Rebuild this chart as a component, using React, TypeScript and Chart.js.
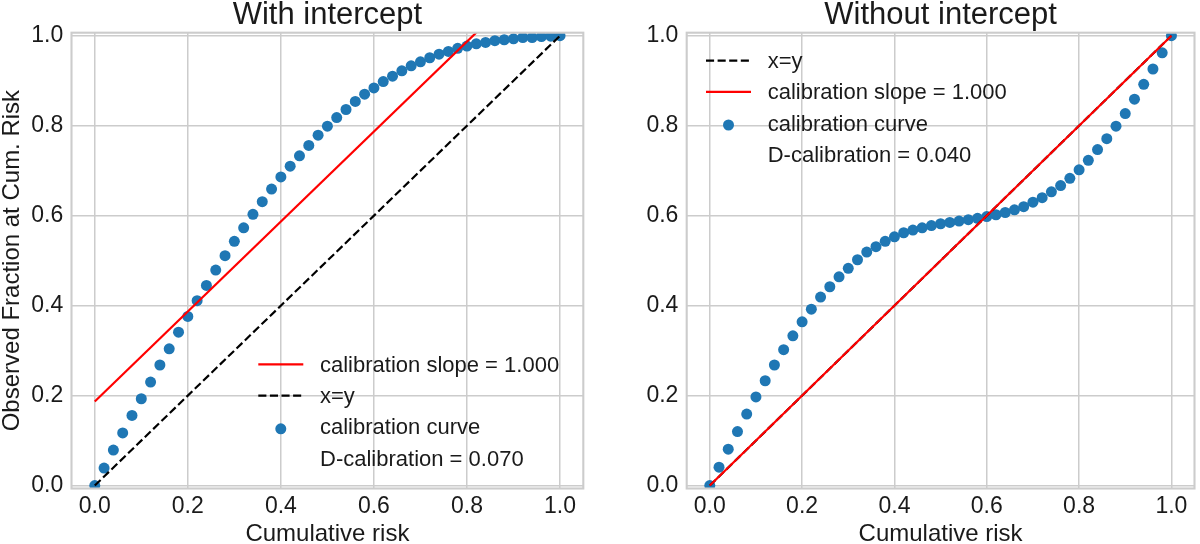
import React, { useEffect, useRef } from "react";
import { Chart, registerables } from "chart.js";

Chart.register(...registerables);

// ---------------- data ----------------
const RISK = [
  0.0, 0.02, 0.04, 0.06, 0.08, 0.1, 0.12, 0.14, 0.16, 0.18,
  0.2, 0.22, 0.24, 0.26, 0.28, 0.3, 0.32, 0.34, 0.36, 0.38,
  0.4, 0.42, 0.44, 0.46, 0.48, 0.5, 0.52, 0.54, 0.56, 0.58,
  0.6, 0.62, 0.64, 0.66, 0.68, 0.7, 0.72, 0.74, 0.76, 0.78,
  0.8, 0.82, 0.84, 0.86, 0.88, 0.9, 0.92, 0.94, 0.96, 0.98, 1.0,
];

const CURVE_WITH_INTERCEPT = [
  0.0, 0.039, 0.079, 0.117, 0.156, 0.193, 0.23, 0.268, 0.304, 0.341,
  0.376, 0.411, 0.445, 0.479, 0.511, 0.543, 0.573, 0.603, 0.631, 0.659,
  0.686, 0.71, 0.733, 0.756, 0.779, 0.799, 0.818, 0.836, 0.854, 0.87,
  0.884, 0.898, 0.91, 0.922, 0.933, 0.942, 0.951, 0.959, 0.965, 0.972,
  0.977, 0.982, 0.985, 0.989, 0.991, 0.993, 0.996, 0.996, 0.998, 0.999, 1.0,
];

const CURVE_WITHOUT_INTERCEPT = [
  0.0, 0.041, 0.081, 0.12, 0.159, 0.197, 0.233, 0.268, 0.302, 0.333,
  0.364, 0.392, 0.419, 0.442, 0.464, 0.483, 0.502, 0.519, 0.531, 0.543,
  0.553, 0.562, 0.568, 0.573, 0.578, 0.582, 0.585, 0.588, 0.591, 0.594,
  0.598, 0.602, 0.607, 0.613, 0.62, 0.63, 0.64, 0.653, 0.667, 0.683,
  0.702, 0.723, 0.747, 0.771, 0.799, 0.827, 0.859, 0.892, 0.926, 0.962, 1.0,
];

const IDENTITY_X = [0, 1];
const IDENTITY_Y = [0, 1];
const SLOPE_WITH_X = [0, 1];
const SLOPE_WITH_Y = [0.187, 1.187];
const SLOPE_WITHOUT_X = [0, 1];
const SLOPE_WITHOUT_Y = [0, 1];

const X_TICKS = [0, 0.2, 0.4, 0.6, 0.8, 1.0];
const Y_TICKS = [0, 0.2, 0.4, 0.6, 0.8, 1.0];

const TITLE_WITH = "With intercept";
const TITLE_WITHOUT = "Without intercept";
const X_LABEL = "Cumulative risk";
const Y_LABEL = "Observed Fraction at Cum. Risk";

const LEGEND_WITH_LABELS = ["calibration slope = 1.000", "x=y", "calibration curve", "D-calibration = 0.070"];
const LEGEND_WITH_KINDS = ["red", "dash", "dot", "none"];
const LEGEND_WITHOUT_LABELS = ["x=y", "calibration slope = 1.000", "calibration curve", "D-calibration = 0.040"];
const LEGEND_WITHOUT_KINDS = ["dash", "red", "dot", "none"];

// ---------------- styles ----------------
const FAMILY = '"Liberation Sans", Arial, Helvetica, sans-serif';
const TEXT = "#1a1a1a";
const GRID = "#cccccc";
const BLUE = "#1f77b4";
const RED = "#ff0000";
const DASH = [8.1, 3.5];
const LW = 2.2;
const DOT_R = 5.5;

type PanelSpec = {
  title: string;
  curve: number[];
  slopeX: number[];
  slopeY: number[];
  showYLabel: boolean;
  yAxisWidth: number;
  padRight: number;
  legendLabels: string[];
  legendKinds: string[];
  legendDx: number;
  legendDy: number;
};

function pts(xs: number[], ys: number[]) {
  return xs.map((x, i) => ({ x, y: ys[i] }));
}

function makeConfig(p: PanelSpec): any {
  const framePlugin = {
    id: "frame",
    afterDatasetsDraw(chart: any) {
      const { ctx, chartArea: a } = chart;
      ctx.save();
      ctx.strokeStyle = GRID;
      ctx.lineWidth = 2.1;
      ctx.setLineDash([]);
      ctx.strokeRect(a.left, a.top, a.right - a.left, a.bottom - a.top);
      ctx.restore();
    },
  };
  const legendPlugin = {
    id: "innerLegend",
    afterDraw(chart: any) {
      const { ctx, chartArea: a } = chart;
      const hx = a.left + p.legendDx;
      const base = a.top + p.legendDy;
      ctx.save();
      ctx.font = `22px ${FAMILY}`;
      ctx.fillStyle = TEXT;
      ctx.textAlign = "left";
      ctx.textBaseline = "alphabetic";
      p.legendLabels.forEach((label, i) => {
        const b = base + i * 31.3;
        const kind = p.legendKinds[i];
        if (kind === "red" || kind === "dash") {
          ctx.beginPath();
          ctx.lineWidth = LW;
          ctx.lineCap = "butt";
          ctx.strokeStyle = kind === "red" ? RED : "#000000";
          ctx.setLineDash(kind === "dash" ? DASH : []);
          ctx.moveTo(hx, b - 7.3);
          ctx.lineTo(hx + 45, b - 7.3);
          ctx.stroke();
          ctx.setLineDash([]);
        } else if (kind === "dot") {
          ctx.beginPath();
          ctx.fillStyle = BLUE;
          ctx.arc(hx + 22.5, b - 5.5, DOT_R, 0, Math.PI * 2);
          ctx.fill();
          ctx.fillStyle = TEXT;
        }
        ctx.fillText(label, hx + 61.7, b);
      });
      ctx.restore();
    },
  };

  const lineDs = (data: any, color: string, dash: number[], order: number) => ({
    data,
    showLine: true,
    borderColor: color,
    borderWidth: LW,
    borderDash: dash,
    borderCapStyle: "butt",
    pointRadius: 0,
    pointHoverRadius: 0,
    fill: false,
    clip: 0,
    order,
  });

  return {
    type: "scatter",
    data: {
      datasets: [
        lineDs(pts(p.slopeX, p.slopeY), RED, [], 0),
        lineDs(pts(IDENTITY_X, IDENTITY_Y), "#000000", DASH, 1),
        {
          data: pts(RISK, p.curve),
          showLine: false,
          pointRadius: DOT_R,
          pointBorderWidth: 0,
          pointBackgroundColor: BLUE,
          pointBorderColor: BLUE,
          clip: 0,
          order: 2,
        },
      ],
    },
    options: {
      responsive: false,
      maintainAspectRatio: false,
      animation: false,
      devicePixelRatio: 1,
      layout: { padding: { top: 0, left: 0, bottom: 0, right: p.padRight } },
      plugins: {
        legend: { display: false },
        tooltip: { enabled: false },
        title: {
          display: true,
          fullSize: false,
          text: p.title,
          color: TEXT,
          font: { family: FAMILY, size: 31, weight: "normal", lineHeight: 1 },
          padding: { top: 0, bottom: 1.7 },
        },
      },
      scales: {
        x: {
          type: "linear",
          min: -0.05,
          max: 1.05,
          afterBuildTicks: (s: any) => {
            s.ticks = X_TICKS.map((value) => ({ value }));
          },
          afterFit: (s: any) => {
            s.height = 55.5;
          },
          ticks: {
            color: TEXT,
            padding: 4.6,
            maxRotation: 0,
            autoSkip: false,
            font: { family: FAMILY, size: 23, lineHeight: 1.2 },
            callback: (v: any) => Number(v).toFixed(1),
          },
          grid: { color: GRID, lineWidth: 1.5, drawTicks: false },
          border: { display: false },
          title: {
            display: true,
            text: X_LABEL,
            color: TEXT,
            font: { family: FAMILY, size: 24, lineHeight: 1 },
            padding: { top: 0, bottom: -2.4 },
          },
        },
        y: {
          type: "linear",
          min: -0.0065,
          max: 1.0067,
          afterBuildTicks: (s: any) => {
            s.ticks = Y_TICKS.map((value) => ({ value }));
          },
          afterFit: (s: any) => {
            s.width = p.yAxisWidth;
          },
          ticks: {
            color: TEXT,
            padding: 8.3,
            autoSkip: false,
            font: { family: FAMILY, size: 23, lineHeight: 1.2 },
            callback: (v: any) => Number(v).toFixed(1),
          },
          grid: { color: GRID, lineWidth: 1.5, drawTicks: false },
          border: { display: false },
          title: {
            display: p.showYLabel,
            text: Y_LABEL,
            color: TEXT,
            font: { family: FAMILY, size: 24, lineHeight: 1 },
            padding: { top: 0.4, bottom: 0 },
          },
        },
      },
    },
    plugins: [framePlugin, legendPlugin],
  };
}

function Panel({ spec, left, width }: { spec: PanelSpec; left: number; width: number }) {
  const ref = useRef<HTMLCanvasElement | null>(null);
  useEffect(() => {
    if (!ref.current) return;
    const chart = new Chart(ref.current, makeConfig(spec));
    return () => chart.destroy();
  }, [spec]);
  return (
    <canvas
      ref={ref}
      width={width}
      height={544}
      style={{ position: "absolute", left, top: 0, width, height: 544, display: "block" }}
    />
  );
}

const LEFT_SPEC: PanelSpec = {
  title: TITLE_WITH,
  curve: CURVE_WITH_INTERCEPT,
  slopeX: SLOPE_WITH_X,
  slopeY: SLOPE_WITH_Y,
  showYLabel: true,
  yAxisWidth: 71.5,
  padRight: 36.7,
  legendLabels: LEGEND_WITH_LABELS,
  legendKinds: LEGEND_WITH_KINDS,
  legendDx: 186.8,
  legendDy: 339,
};

const RIGHT_SPEC: PanelSpec = {
  title: TITLE_WITHOUT,
  curve: CURVE_WITHOUT_INTERCEPT,
  slopeX: SLOPE_WITHOUT_X,
  slopeY: SLOPE_WITHOUT_Y,
  showYLabel: false,
  yAxisWidth: 66.7,
  padRight: 3.3,
  legendLabels: LEGEND_WITHOUT_LABELS,
  legendKinds: LEGEND_WITHOUT_KINDS,
  legendDx: 19.3,
  legendDy: 35.2,
};

export default function App() {
  return (
    <div
      style={{
        position: "absolute",
        left: 0,
        top: 0,
        width: 1200,
        height: 544,
        background: "#ffffff",
        overflow: "hidden",
      }}
    >
      <Panel spec={LEFT_SPEC} left={0} width={620} />
      <Panel spec={RIGHT_SPEC} left={620} width={580} />
    </div>
  );
}
